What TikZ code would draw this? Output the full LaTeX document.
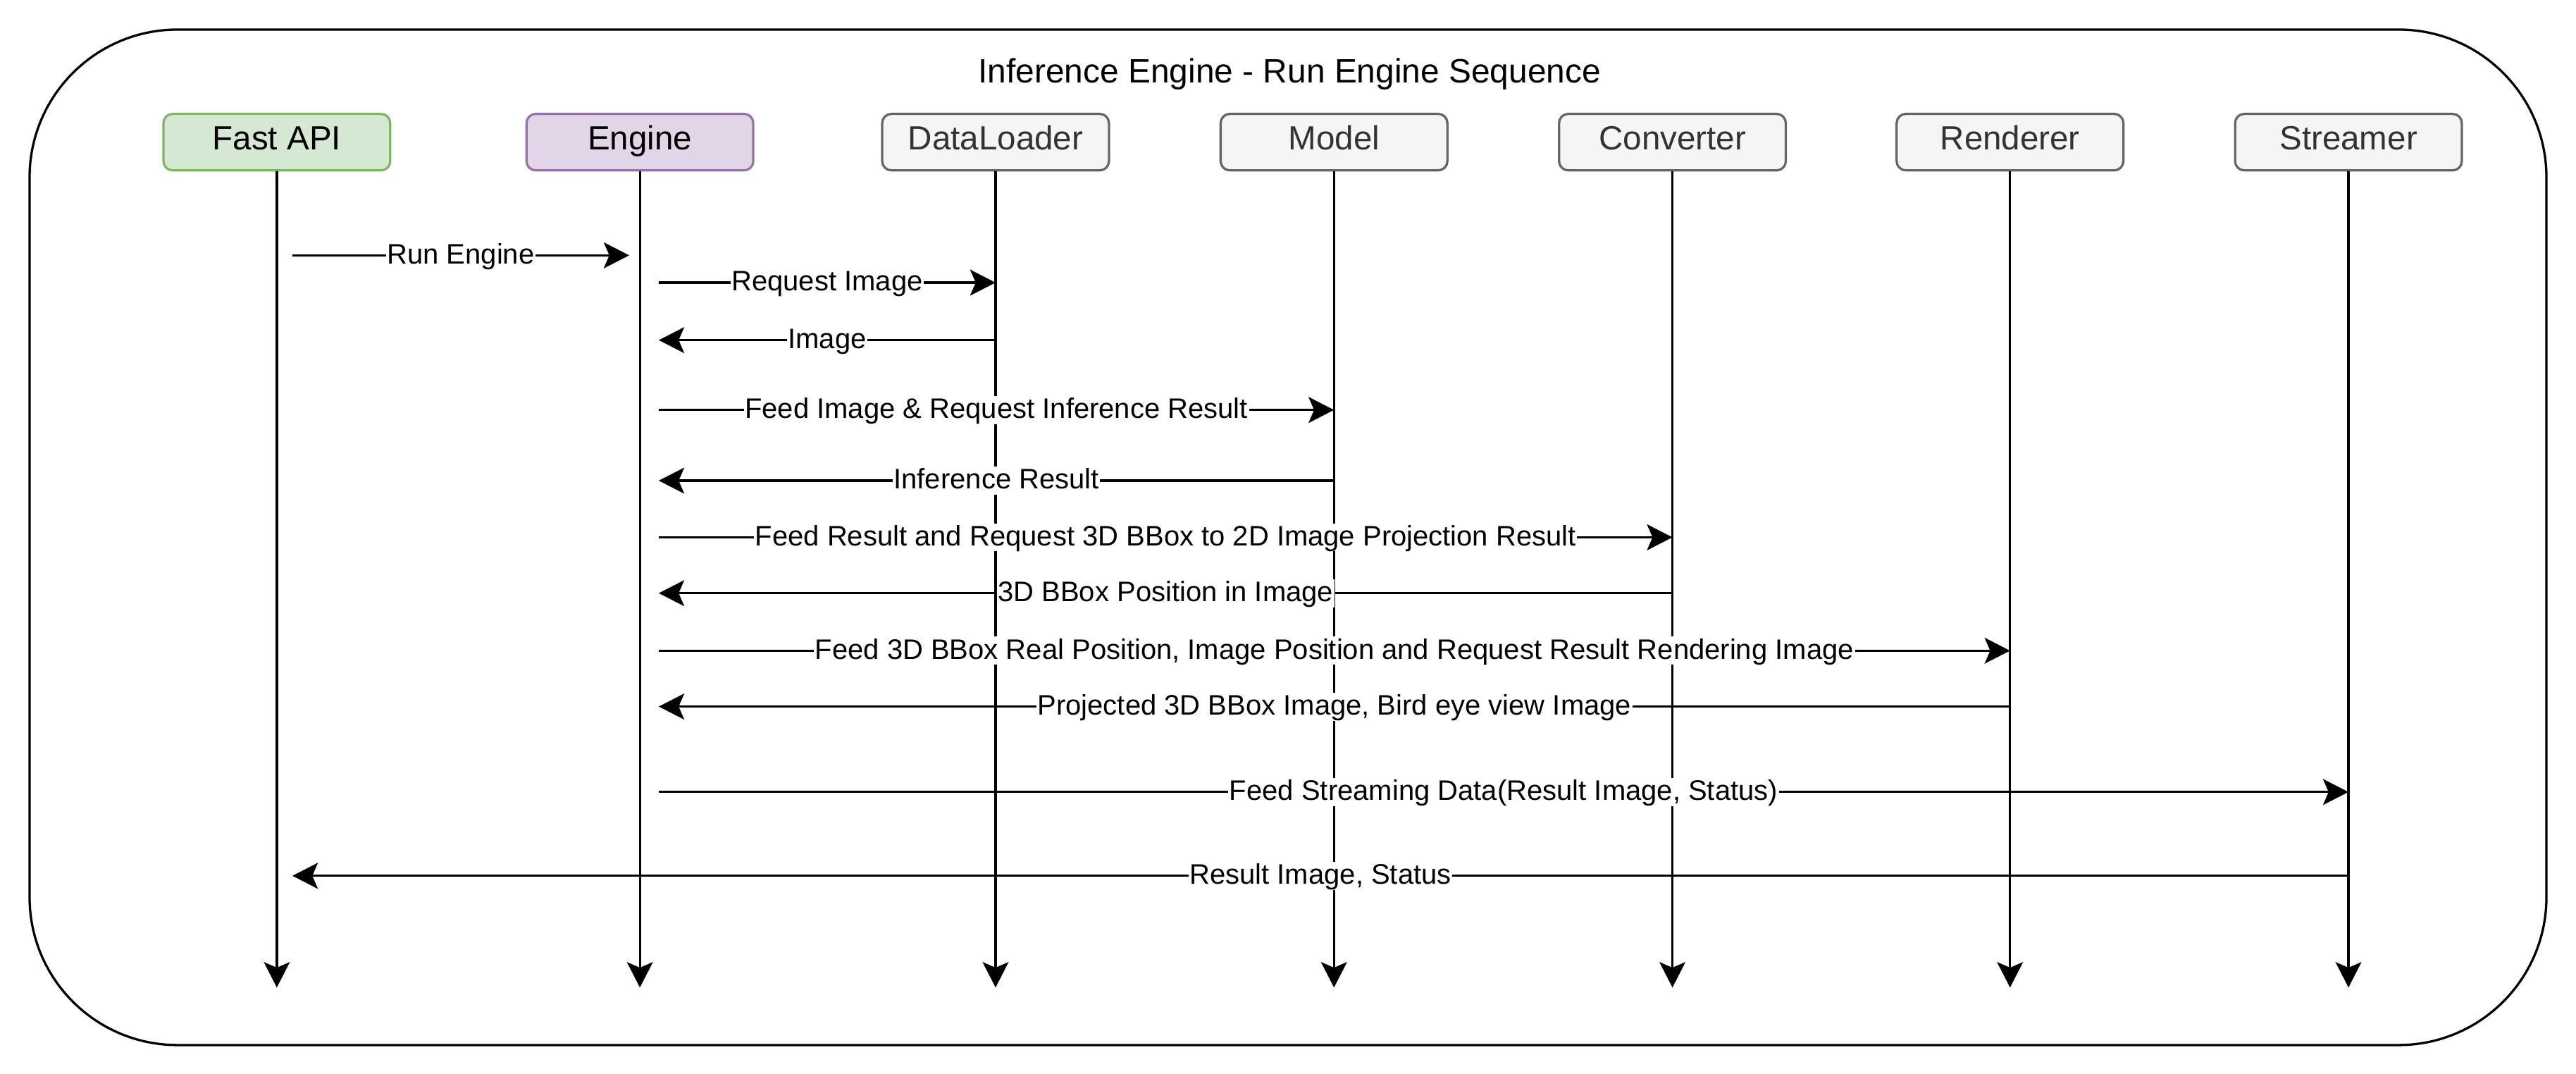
\documentclass[tikz,border=0pt]{standalone}
\usepackage{fontspec}
\setmainfont{Liberation Sans}
\usetikzlibrary{arrows.meta}
\definecolor{faFill}{HTML}{D5E8D4}
\definecolor{faDraw}{HTML}{82B366}
\definecolor{enFill}{HTML}{E1D5E7}
\definecolor{enDraw}{HTML}{9673A6}
\definecolor{gyFill}{HTML}{F5F5F5}
\definecolor{gyDraw}{HTML}{666666}
\definecolor{gyText}{HTML}{333333}
\tikzset{
  tip/.tip={Stealth[length=11pt,width=11.2pt,inset=2.4pt]},
  hdr/.style={rectangle, rounded corners=4pt, line width=1pt,
    minimum width=3.45cm, minimum height=0.86cm, inner sep=0pt,
    font=\fontsize{14.5}{17}\selectfont, text height=0.88em, text depth=0.25em},
  hdrgray/.style={hdr, draw=gyDraw, fill=gyFill, text=gyText},
  lifeline/.style={line width=1pt, -tip},
  msg/.style={line width=1pt, -tip},
  lbl/.style={fill=white, inner xsep=0.5pt, inner ysep=0pt,
    font=\fontsize{12.2}{14.6}\selectfont, text height=0.966em, text depth=0.25em},
  frame/.style={line width=1pt, rounded corners=2.25cm},
  ttl/.style={inner sep=0pt, font=\fontsize{14.6}{17}\selectfont, anchor=base}
}
\begin{document}
\begin{tikzpicture}[x=0.025cm,y=-0.025cm]
\useasboundingbox (0,0) rectangle (1568,653.6);
\draw[frame] (18,18) rectangle (1550,636);
\node[ttl] (title) at (785,50.5) {Inference Engine - Run Engine Sequence};

% headers
\node[hdr, draw=faDraw, fill=faFill] (fa) at (168.5,86.5) {Fast API};
\node[hdr, draw=enDraw, fill=enFill] (en) at (389.5,86.5) {Engine};
\node[hdrgray] (dl) at (606,86.5) {DataLoader};
\node[hdrgray] (mo) at (812,86.5) {Model};
\node[hdrgray] (co) at (1018,86.5) {Converter};
\node[hdrgray] (re) at (1223.5,86.5) {Renderer};
\node[hdrgray] (st) at (1429.5,86.5) {Streamer};

% lifeline ends
\coordinate (faE) at (168.5,601);
\coordinate (enE) at (389.5,601);
\coordinate (dlE) at (606,601);
\coordinate (moE) at (812,601);
\coordinate (coE) at (1018,601);
\coordinate (reE) at (1223.5,601);
\coordinate (stE) at (1429.5,601);
\draw[lifeline] (fa.south) -- (faE);
\draw[lifeline] (en.south) -- (enE);
\draw[lifeline] (dl.south) -- (dlE);
\draw[lifeline] (mo.south) -- (moE);
\draw[lifeline] (co.south) -- (coE);
\draw[lifeline] (re.south) -- (reE);
\draw[lifeline] (st.south) -- (stE);

% message end points
\coordinate (m1a) at (178,155.4); \coordinate (m1b) at (383,155.4);
\coordinate (m2a) at (401,172);   \coordinate (m2b) at (606,172);
\coordinate (m3a) at (606,207);   \coordinate (m3b) at (401,207);
\coordinate (m4a) at (401,249.5); \coordinate (m4b) at (812,249.5);
\coordinate (m5a) at (812,292.5); \coordinate (m5b) at (401,292.5);
\coordinate (m6a) at (401,327);   \coordinate (m6b) at (1018,327);
\coordinate (m7a) at (1018,361);  \coordinate (m7b) at (401,361);
\coordinate (m8a) at (401,396);   \coordinate (m8b) at (1223.5,396);
\coordinate (m9a) at (1223.5,430);\coordinate (m9b) at (401,430);
\coordinate (m10a) at (401,482);  \coordinate (m10b) at (1429.5,482);
\coordinate (m11a) at (1429.5,533);\coordinate (m11b) at (178,533);

\draw[msg] (m1a) -- node[lbl] (l1) {Run Engine} (m1b);
\draw[msg] (m2a) -- node[lbl] (l2) {Request Image} (m2b);
\draw[msg] (m3a) -- node[lbl] (l3) {Image} (m3b);
\draw[msg] (m4a) -- node[lbl] (l4) {Feed Image \& Request Inference Result} (m4b);
\draw[msg] (m5a) -- node[lbl] (l5) {Inference Result} (m5b);
\draw[msg] (m6a) -- node[lbl] (l6) {Feed Result and Request 3D BBox to 2D Image Projection Result} (m6b);
\draw[msg] (m7a) -- node[lbl] (l7) {3D BBox Position in Image} (m7b);
\draw[msg] (m8a) -- node[lbl] (l8) {Feed 3D BBox Real Position, Image Position and Request Result Rendering Image} (m8b);
\draw[msg] (m9a) -- node[lbl] (l9) {Projected 3D BBox Image, Bird eye view Image} (m9b);
\draw[msg] (m10a) -- node[lbl] (l10) {Feed Streaming Data(Result Image, Status)} (m10b);
\draw[msg] (m11a) -- node[lbl] (l11) {Result Image, Status} (m11b);
\end{tikzpicture}
\end{document}
